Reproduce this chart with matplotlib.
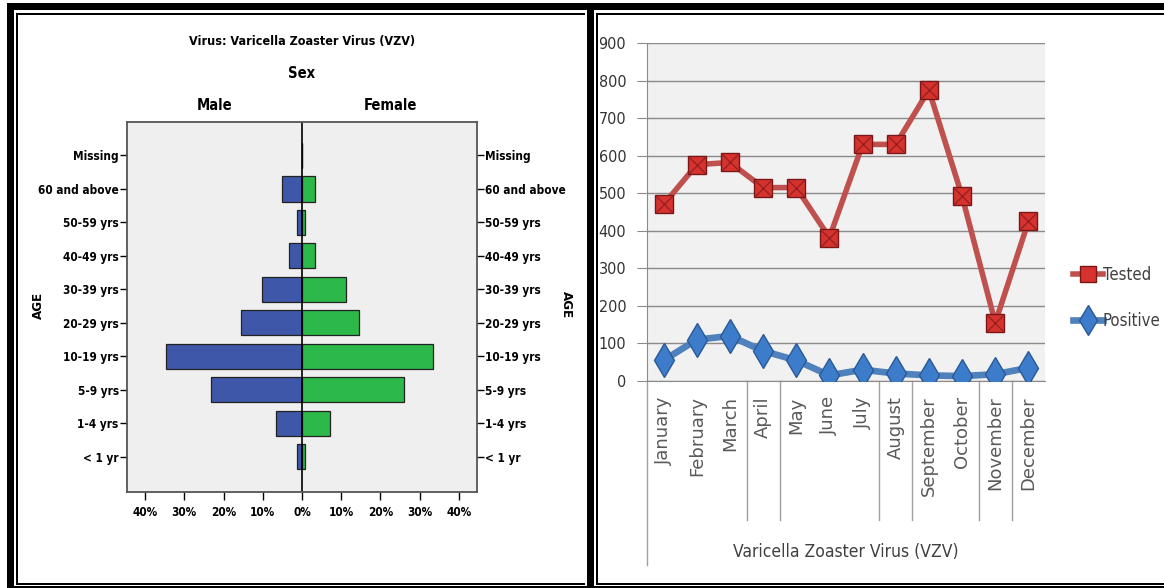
import matplotlib.pyplot as plt
from matplotlib.patches import Rectangle
from matplotlib.lines import Line2D
from matplotlib.font_manager import FontProperties

# age pyramid data (percent of cases by sex)
age_groups = ['< 1 yr', '1-4 yrs', '5-9 yrs', '10-19 yrs', '20-29 yrs',
              '30-39 yrs', '40-49 yrs', '50-59 yrs', '60 and above', 'Missing']
male_pct = [1.4, 6.5, 23.1, 34.6, 15.5, 10.2, 3.4, 1.2, 5.1, 0]
female_pct = [0.8, 7.1, 25.9, 33.3, 14.4, 11.3, 3.2, 0.8, 3.3, 0]
pct_ticks = [-40, -30, -20, -10, 0, 10, 20, 30, 40]

# monthly counts
months = ['January', 'February', 'March', 'April', 'May', 'June', 'July',
          'August', 'September', 'October', 'November', 'December']
tested = [470, 576, 582, 515, 515, 382, 630, 630, 775, 492, 155, 425]
positive = [55, 110, 120, 80, 55, 15, 30, 20, 15, 13, 18, 35]
count_ticks = [0, 100, 200, 300, 400, 500, 600, 700, 800, 900]

W, H = 1164, 588


def narrow(size, bold=False):
    return FontProperties(family='DejaVu Sans', stretch='condensed', size=size,
                          weight='bold' if bold else 'normal')


fig = plt.figure(figsize=(W / 100, H / 100), dpi=100)


def px_axes(x0, y0, x1, y1, **kw):
    return fig.add_axes([x0 / W, 1 - y1 / H, (x1 - x0) / W, (y1 - y0) / H], **kw)


def px_text(x, y, s, **kw):
    fig.text(x / W, 1 - y / H, s, **kw)


# double black frames around both panels
frame = px_axes(0, 0, W, H)
frame.set_xlim(0, W)
frame.set_ylim(H, 0)
frame.axis('off')
frame.patch.set_alpha(0)
black_bars = [
    (7, 3, 594, 10), (7, 3, 14, 588), (587, 3, 594, 588), (7, 586, 1164, 588),
    (16, 13, 585, 15), (16, 13, 18, 584), (16, 583, 585, 585),
    (594, 3, 1164, 10), (596, 13, 1164, 15), (596, 13, 598, 584),
    (596, 583, 1164, 585),
]
for x0, y0, x1, y1 in black_bars:
    frame.add_patch(Rectangle((x0, y0), x1 - x0, y1 - y0, color='black', lw=0))

# ---- left panel: population pyramid ----
ax = px_axes(127, 122, 477, 492)
ax.set_facecolor('#EFEFEF')
y = list(range(len(age_groups)))
ax.barh(y, [-v for v in male_pct], height=0.75, color='#3F57A8',
        edgecolor='#222222', linewidth=0.9)
ax.barh(y, female_pct, height=0.75, color='#2DB84A',
        edgecolor='#222222', linewidth=0.9)
ax.axvline(0, color='black', lw=1.2)
ax.set_xlim(-44.6, 44.6)
ax.set_ylim(-1.05, 10.0)
ax.set_xticks(pct_ticks)
ax.set_xticklabels([f'{abs(t)}%' for t in pct_ticks],
                   fontproperties=narrow(8.5, True))
ax.set_yticks(y)
ax.set_yticklabels(age_groups)
ax.tick_params(axis='y', which='both', left=True, right=True,
               labelleft=True, labelright=True, length=5, width=1, pad=1)
for t in ax.yaxis.get_major_ticks():
    t.label1.set_fontproperties(narrow(8.5, True))
    t.label2.set_fontproperties(narrow(8.5, True))
ax.tick_params(axis='x', length=6, width=1, pad=4)
for s in ax.spines.values():
    s.set_color('#555555')
    s.set_linewidth(1.3)

px_text(302, 42, 'Virus: Varicella Zoaster Virus (VZV)', ha='center', va='center',
        fontproperties=narrow(9, True))
px_text(302, 73, 'Sex', ha='center', va='center', fontproperties=narrow(10.5, True))
px_text(215, 106, 'Male', ha='center', va='center', fontproperties=narrow(10.5, True))
px_text(390, 106, 'Female', ha='center', va='center',
        fontproperties=narrow(10.5, True))
px_text(38, 305, 'AGE', ha='center', va='center', rotation=90,
        fontproperties=narrow(9.5, True))
px_text(566, 305, 'AGE', ha='center', va='center', rotation=270,
        fontproperties=narrow(9.5, True))

# ---- right panel: monthly tested vs positive ----
bx = px_axes(647, 43, 1045, 381)
bx.set_facecolor('#F1F1F1')
x = list(range(len(months)))
bx.plot(x, tested, color='#C0504D', lw=4, marker='s', ms=13,
        mfc='#D6332F', mec='#7A1616', mew=1, zorder=3)
bx.plot(x, tested, ls='none', marker='x', ms=11, mec='#9A2020', mew=1, zorder=4)
bx.plot(x, positive, color='#4F81BD', lw=4.8, marker='d', ms=17,
        mfc='#3D7BCB', mec='#2A5A96', mew=1, zorder=3)
bx.set_xlim(-0.5, 11.5)
bx.set_ylim(0, 900)
bx.set_yticks(count_ticks)
bx.set_yticklabels([str(t) for t in count_ticks], fontproperties=narrow(11.5),
                   color='#333333')
bx.yaxis.grid(True, color='#8A8A8A', lw=1)
bx.set_axisbelow(True)
bx.set_xticks(x)
bx.set_xticklabels(months, rotation=90, fontsize=13, color='#5A5A5A')
bx.tick_params(axis='x', length=0, pad=11)
bx.tick_params(axis='y', length=7, color='#8A8A8A', pad=8)
for side in ['top', 'right']:
    bx.spines[side].set_visible(False)
for side in ['left', 'bottom']:
    bx.spines[side].set_color('#8A8A8A')

# category separators hanging under the axis
for b in [3, 4, 7, 8, 10, 11]:
    bx.plot([b - 0.5, b - 0.5], [0, -370], color='#A0A0A0', lw=1, clip_on=False)
bx.plot([-0.5, -0.5], [0, -490], color='#A0A0A0', lw=1, clip_on=False)

px_text(846, 552, 'Varicella Zoaster Virus (VZV)', ha='center', va='center',
        fontproperties=narrow(12.5), color='#404040')

legend_items = [
    Line2D([], [], color='#C0504D', lw=4, marker='s', ms=12,
           mfc='#D6332F', mec='#7A1616'),
    Line2D([], [], color='#4F81BD', lw=4.8, marker='d', ms=15,
           mfc='#3D7BCB', mec='#2A5A96'),
]
fig.legend(legend_items, ['Tested', 'Positive'], loc='center left',
           bbox_to_anchor=(1058 / W, 1 - 298 / H), frameon=False,
           handlelength=1.8, handletextpad=0.0, labelspacing=1.7,
           prop=narrow(12), labelcolor='#404040')

fig.savefig('out.png', dpi=100)
